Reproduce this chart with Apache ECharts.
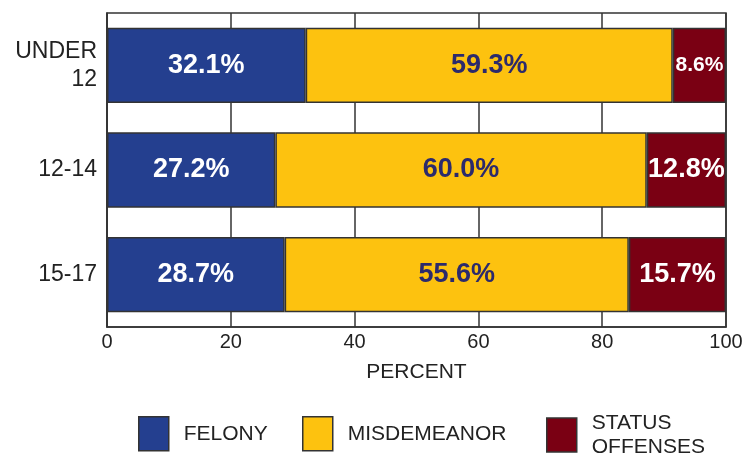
<!DOCTYPE html>
<html>
<head>
<meta charset="utf-8">
<script src="https://cdn.jsdelivr.net/npm/echarts@6/dist/echarts.min.js"></script>
<style>
html, body { margin: 0; padding: 0; background: #fff; }
#chart { width: 746px; height: 458px; }
</style>
</head>
<body>
<div id="chart"></div>
<script>
var ageGroups = ["UNDER\n12", "12-14", "15-17"];
var felony = [32.1, 27.2, 28.7];
var misdemeanor = [59.3, 60.0, 55.6];
var statusOffenses = [8.6, 12.8, 15.7];
var xTicks = [0, 20, 40, 60, 80, 100];

var chart = echarts.init(document.getElementById("chart"));
var font = "'Liberation Sans', Arial, sans-serif";

function pct(p){
    return p.value.toFixed(1) + "%";
}

function makeSeries(name, values, color, labelColor){
    return {
        name: name,
        type: "bar",
        stack: "total",
        barWidth: "72%",
        itemStyle: { color: color, borderColor: "#333", borderWidth: 1.5 },
        label: {
            show: true,
            position: "inside",
            formatter: pct,
            color: labelColor,
            fontFamily: font,
            fontWeight: "bold",
            fontSize: 27
        },
        data: values.map(function(v){
            // the narrow slice gets a smaller label so it fits
            if (v < 10) return { value: v, label: { fontSize: 21 } };
            return v;
        })
    };
}

function legendAt(left, top, name){
    return {
        left: left,
        top: top,
        padding: 0,
        data: [name],
        icon: "rect",
        itemWidth: 30,
        itemHeight: 34,
        itemGap: 0,
        selectedMode: false,
        itemStyle: { borderColor: "#333", borderWidth: 1.5 },
        textStyle: { fontFamily: font, fontSize: 21, color: "#222", lineHeight: 24, padding: [0, 0, 0, 10] }
    };
}

var option = {
    animation: false,
    legend: [
        legendAt(138, 416, "FELONY"),
        legendAt(302, 416, "MISDEMEANOR"),
        legendAt(546, 411, "STATUS\nOFFENSES")
    ],
    grid: {
        left: 107, right: 20, top: 13, bottom: 131,
        show: true, borderColor: "#333", borderWidth: 1.5
    },
    xAxis: {
        type: "value",
        min: xTicks[0],
        max: xTicks[xTicks.length - 1],
        interval: 20,
        name: "PERCENT",
        nameLocation: "middle",
        nameGap: 35,
        nameTextStyle: { fontFamily: font, fontSize: 21, color: "#222" },
        axisLine: { show: true, lineStyle: { color: "#333", width: 1.5 } },
        axisTick: { show: false },
        axisLabel: { fontFamily: font, fontSize: 20, color: "#222", margin: 5 },
        splitLine: { show: true, lineStyle: { color: "#333", width: 1.5 } }
    },
    yAxis: {
        type: "category",
        inverse: true,
        data: ageGroups,
        axisLine: { show: true, lineStyle: { color: "#333", width: 1.5 } },
        axisTick: { show: false },
        axisLabel: { fontFamily: font, fontSize: 23, color: "#222", margin: 10, lineHeight: 28, align: "right", padding: [6, 0, 0, 0] }
    },
    series: [
        makeSeries("FELONY", felony, "#243f8f", "#fff"),
        makeSeries("MISDEMEANOR", misdemeanor, "#fdc20f", "#2c2a6c"),
        makeSeries("STATUS\nOFFENSES", statusOffenses, "#7a0013", "#fff")
    ]
};

chart.setOption(option);
</script>
</body>
</html>
